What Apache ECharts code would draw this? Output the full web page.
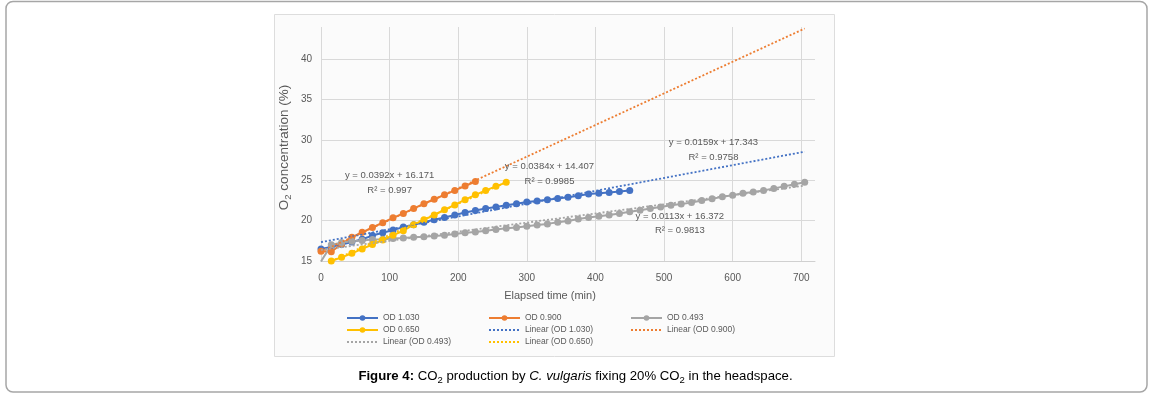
<!DOCTYPE html>
<html>
<head>
<meta charset="utf-8">
<script src="https://cdn.jsdelivr.net/npm/echarts@6.0.0/dist/echarts.min.js"></script>
<style>
html,body{margin:0;padding:0;background:#fff;}
#chart{width:1151px;height:395px;}
</style>
</head>
<body>
<div id="chart"></div>
<script>
// ---- data ----
const times = [0,15,30,45,60,75,90,105,120,135,150,165,180,195,210,225,240,255,270,285,300,315,330,345,360,375,390,405,420,435,450,465,480,495,510,525,540,555,570,585,600,615,630,645,660,675,690,705];

const od1030 = [16.5,16.75,17.05,17.35,17.7,18.15,18.5,18.85,19.2,19.5,19.8,20.1,20.4,20.7,21.0,21.25,21.5,21.7,21.9,22.1,22.3,22.45,22.6,22.75,22.9,23.1,23.3,23.4,23.5,23.6,23.75];
const od0900 = [16.2,16.15,17.1,17.95,18.55,19.15,19.75,20.35,20.9,21.5,22.1,22.65,23.2,23.75,24.3,24.85];
const od0493 = [14.95,17.0,17.3,17.45,17.55,17.65,17.7,17.8,17.85,17.95,18.0,18.1,18.2,18.35,18.5,18.6,18.75,18.9,19.05,19.15,19.3,19.45,19.6,19.8,19.95,20.2,20.4,20.55,20.7,20.9,21.1,21.3,21.5,21.7,21.9,22.05,22.25,22.5,22.7,22.95,23.15,23.4,23.55,23.75,24.0,24.25,24.5,24.75];
const od0650 = [15.0,15.45,15.95,16.5,17.05,17.6,18.2,18.75,19.5,20.1,20.7,21.35,21.95,22.6,23.2,23.75,24.25,24.75];

const t1030 = times.slice(0, 31);
const t0900 = times.slice(0, 16);
const t0493 = times.slice(0, 48);
const t0650 = times.slice(1, 19);

// trendline end points
const trend1030X = [0, 705], trend1030Y = [17.34, 28.55];
const trend0900X = [0, 705], trend0900Y = [16.17, 43.81];
const trend0493X = [0, 705], trend0493Y = [16.37, 24.34];
const trend0650X = [15, 270], trend0650Y = [14.98, 24.78];

const eq1030 = 'y = 0.0159x + 17.343\nR² = 0.9758';
const eq0900 = 'y = 0.0392x + 16.171\nR² = 0.997';
const eq0493 = 'y = 0.0113x + 16.372\nR² = 0.9813';
const eq0650 = 'y = 0.0384x + 14.407\nR² = 0.9985';

const xTicks = [0,100,200,300,400,500,600,700];
const yTicks = [15,20,25,30,35,40];

// ---- chart ----
const FONT = "'Liberation Sans', Arial, sans-serif";
const TXT = '#595959';
const C_BLUE = '#4472C4', C_ORANGE = '#ED7D31', C_GRAY = '#A5A5A5', C_YELLOW = '#FFC000';

function zip(xs, ys){ return ys.map((v,i)=>[xs[i], v]); }

function dataSeries(name, xs, ys, color){
  return {
    name, type:'line', data: zip(xs, ys),
    symbol:'circle', symbolSize:7, showSymbol:true,
    lineStyle:{color, width:2},
    itemStyle:{color, borderWidth:0},
    emphasis:{disabled:true}, silent:true, z:2
  };
}
function trendSeries(name, xs, ys, color, eq, at){
  return {
    name, type:'line', data: zip(xs, ys),
    symbol:'none', showSymbol:false,
    lineStyle:{color, width:1.8, type:[2,2]},
    itemStyle:{color:'rgba(0,0,0,0)', borderWidth:0},
    emphasis:{disabled:true}, silent:true, z:3,
    markPoint:{
      silent:true, symbol:'rect', symbolSize:1,
      itemStyle:{color:'rgba(0,0,0,0)'},
      label:{show:true, position:'inside', formatter:eq, color:TXT, fontSize:9.5, lineHeight:14.5, fontFamily:FONT, align:'center'},
      data:[{coord: at}]
    }
  };
}
function legendCol(left, names){
  return {
    orient:'vertical', left, top:312, padding:0, itemGap:0,
    itemWidth:31, itemHeight:7, selectedMode:false,
    textStyle:{fontSize:8.5, color:TXT, lineHeight:12, fontFamily:FONT},
    data:names
  };
}

const chart = echarts.init(document.getElementById('chart'), null, {renderer:'canvas'});
chart.setOption({
  animation:false,
  backgroundColor:'#ffffff',
  textStyle:{fontFamily:FONT},
  graphic:[
    {type:'rect', z:-10, silent:true, shape:{x:6, y:1.5, width:1141, height:390.5, r:7}, style:{fill:'#ffffff', stroke:'#a6a6a6', lineWidth:1.5}},
    {type:'rect', z:-9, silent:true, shape:{x:274.5, y:14.5, width:560, height:342}, style:{fill:'#fbfbfb', stroke:'#dddddd', lineWidth:1}}
  ],
  title:{
    left:'center', top:367, padding:0,
    text:'{b|Figure 4:}{n| CO}{s|2}{n| production by }{i|C. vulgaris}{n| fixing 20% CO}{s|2}{n| in the headspace.}',
    textStyle:{
      fontWeight:'normal',
      rich:{
        b:{fontSize:13.2, fontWeight:'bold', color:'#000', fontFamily:FONT, lineHeight:18},
        n:{fontSize:13.2, fontWeight:'normal', color:'#000', fontFamily:FONT, lineHeight:18},
        i:{fontSize:13.2, fontWeight:'normal', fontStyle:'italic', color:'#000', fontFamily:FONT, lineHeight:18},
        s:{fontSize:9.5, fontWeight:'normal', color:'#000', fontFamily:FONT, lineHeight:10, verticalAlign:'bottom'}
      }
    }
  },
  legend:[
    legendCol(346, ['OD 1.030','OD 0.650','Linear (OD 0.493)']),
    legendCol(488, ['OD 0.900','Linear (OD 1.030)','Linear (OD 0.650)']),
    legendCol(630, ['OD 0.493','Linear (OD 0.900)'])
  ],
  grid:{left:321, top:27, right:336, bottom:134, containLabel:false},
  xAxis:{
    type:'value', min:0, max:720, interval:100,
    name:'Elapsed time (min)', nameLocation:'middle', nameGap:29,
    nameTextStyle:{fontSize:11, color:TXT, fontFamily:FONT, padding:[0,36,0,0]},
    axisLine:{show:true, lineStyle:{color:'#d0d0d0', width:1}},
    axisTick:{show:false},
    axisLabel:{color:TXT, fontSize:10, margin:12, fontFamily:FONT, showMaxLabel:false,
      formatter:(v)=> xTicks.includes(v) ? String(v) : ''},
    splitLine:{show:true, showMaxLine:false, lineStyle:{color:'#d9d9d9', width:1}}
  },
  yAxis:{
    type:'value', min:15, max:44, interval:5,
    name:'{a|O}{s|2}{a| concentration (%)}', nameLocation:'middle', nameGap:28,
    nameTextStyle:{
      padding:[0,7,0,0],
      rich:{
        a:{fontSize:13.5, color:TXT, fontFamily:FONT, lineHeight:17},
        s:{fontSize:9.5, color:TXT, fontFamily:FONT, lineHeight:9, verticalAlign:'bottom'}
      }
    },
    axisLine:{show:false},
    axisTick:{show:false},
    axisLabel:{color:TXT, fontSize:10, margin:9, fontFamily:FONT, showMaxLabel:false,
      formatter:(v)=> yTicks.includes(v) ? String(v) : ''},
    splitLine:{show:true, showMaxLine:false, lineStyle:{color:'#d9d9d9', width:1}}
  },
  series:[
    dataSeries('OD 1.030', t1030, od1030, C_BLUE),
    dataSeries('OD 0.900', t0900, od0900, C_ORANGE),
    dataSeries('OD 0.493', t0493, od0493, C_GRAY),
    dataSeries('OD 0.650', t0650, od0650, C_YELLOW),
    trendSeries('Linear (OD 1.030)', trend1030X, trend1030Y, C_BLUE, eq1030, [572, 28.77]),
    trendSeries('Linear (OD 0.900)', trend0900X, trend0900Y, C_ORANGE, eq0900, [100, 24.66]),
    trendSeries('Linear (OD 0.493)', trend0493X, trend0493Y, C_GRAY, eq0493, [523, 19.64]),
    trendSeries('Linear (OD 0.650)', trend0650X, trend0650Y, C_YELLOW, eq0650, [333, 25.8])
  ]
});
</script>
</body>
</html>
